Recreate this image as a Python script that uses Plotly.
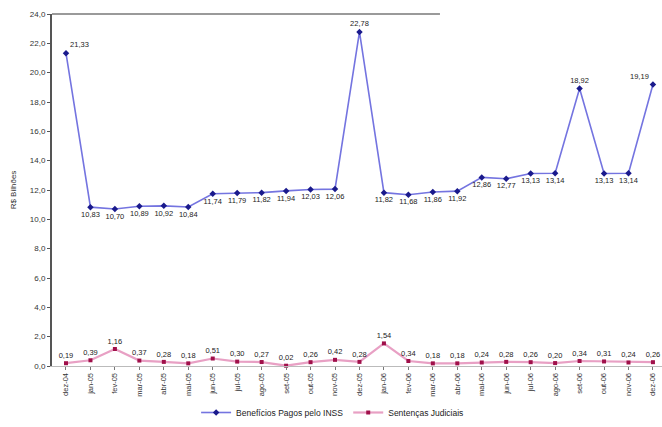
import plotly.graph_objects as go

# Monthly series (R$ billions)
months = ["dez-04", "jan-05", "fev-05", "mar-05", "abr-05", "mai-05", "jun-05",
          "jul-05", "ago-05", "set-05", "out-05", "nov-05", "dez-05", "jan-06",
          "fev-06", "mar-06", "abr-06", "mai-06", "jun-06", "jul-06", "ago-06",
          "set-06", "out-06", "nov-06", "dez-06"]

beneficios = [21.33, 10.83, 10.70, 10.89, 10.92, 10.84, 11.74, 11.79, 11.82,
              11.94, 12.03, 12.06, 22.78, 11.82, 11.68, 11.86, 11.92, 12.86,
              12.77, 13.13, 13.14, 18.92, 13.13, 13.14, 19.19]

sentencas = [0.19, 0.39, 1.16, 0.37, 0.28, 0.18, 0.51, 0.30, 0.27, 0.02, 0.26,
             0.42, 0.28, 1.54, 0.34, 0.18, 0.18, 0.24, 0.28, 0.26, 0.20, 0.34,
             0.31, 0.24, 0.26]

y_ticks = [0, 2, 4, 6, 8, 10, 12, 14, 16, 18, 20, 22, 24]


def br(v):
    return f"{v:.2f}".replace(".", ",")


x_idx = list(range(len(months)))

# label placement for the benefits line: peaks above, the rest below
ben_pos = []
for i, v in enumerate(beneficios):
    if v > 15:
        ben_pos.append("top right" if i == 0 else ("top left" if i == len(months) - 1 else "top center"))
    else:
        ben_pos.append("bottom center")

font_family = "Liberation Sans, Arial, sans-serif"

fig = go.Figure()

fig.add_trace(go.Scatter(
    x=x_idx, y=beneficios,
    mode="lines+markers+text",
    name="Benefícios Pagos pelo INSS",
    line=dict(color="#7474e0", width=1.6),
    marker=dict(symbol="diamond", size=5, color="#1a1a8c"),
    text=[br(v) for v in beneficios],
    textposition=ben_pos,
    textfont=dict(size=7.5, color="#222222", family=font_family),
    cliponaxis=False,
))

fig.add_trace(go.Scatter(
    x=x_idx, y=sentencas,
    mode="lines+markers+text",
    name="Sentenças Judiciais",
    line=dict(color="#e8a0c4", width=2.2),
    marker=dict(symbol="square", size=4, color="#a0104a"),
    text=[br(v) for v in sentencas],
    textposition="top center",
    textfont=dict(size=7.5, color="#222222", family=font_family),
    cliponaxis=False,
))

# thin grey rule along the top of the plot area
fig.add_shape(type="line", xref="paper", yref="paper",
              x0=0, x1=0.636, y0=1, y1=1,
              line=dict(color="#9a9a9a", width=2))

fig.update_layout(
    width=662, height=427,
    margin=dict(l=52, r=0, t=14, b=61),
    paper_bgcolor="white",
    plot_bgcolor="white",
    separators=",.",
    font=dict(family=font_family, size=8, color="#222222"),
    showlegend=True,
    legend=dict(orientation="h", x=0.46, xanchor="center", y=-0.092, yanchor="top",
                bgcolor="rgba(0,0,0,0)",
                font=dict(size=8.5, color="#222222"), itemwidth=30,
                tracegroupgap=0),
    xaxis=dict(
        range=[-0.572, 24.37],
        tickmode="array", tickvals=x_idx, ticktext=months,
        tickangle=-90,
        tickfont=dict(size=7.5, color="#333333"),
        showgrid=False, zeroline=False,
        showline=True, linecolor="#bbbbbb", linewidth=1,
        ticks="outside", ticklen=3, tickcolor="#777777",
        tickson="boundaries",
    ),
    yaxis=dict(
        range=[0, 24],
        tickmode="array", tickvals=y_ticks,
        tickformat=".1f",
        tickfont=dict(size=8, color="#333333"),
        showgrid=False, zeroline=False,
        showline=True, linecolor="#555555", linewidth=2,
        ticks="outside", ticklen=3, tickcolor="#555555",
        title=dict(text="R$ Bilhões", font=dict(size=8, color="#333333"), standoff=12),
    ),
)

fig.write_html("out.html")
